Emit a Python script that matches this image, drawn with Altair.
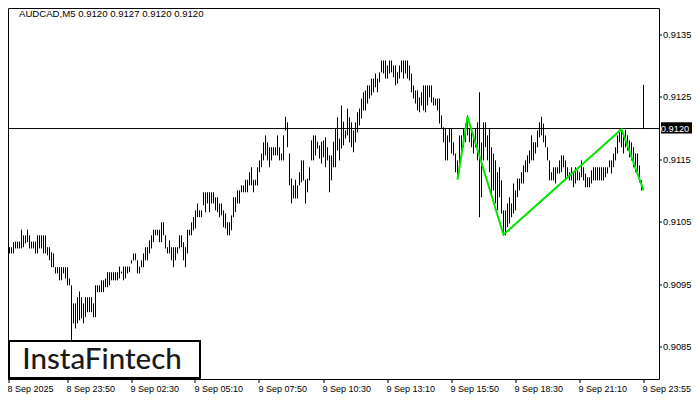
import altair as alt
import pandas as pd

highs = [
    0.90989, 0.91010, 0.91016, 0.91010, 0.91010, 0.91018, 0.91019, 0.91019, 0.91019, 0.91038,
    0.91029, 0.91029, 0.91038, 0.91029, 0.91019, 0.91019, 0.91019, 0.91029, 0.91029, 0.91029,
    0.91029, 0.91029, 0.91010, 0.91010, 0.91002, 0.91000, 0.90978, 0.90978, 0.90978, 0.90978,
    0.90978, 0.90978, 0.90978, 0.90960, 0.90949, 0.90920, 0.90920, 0.90930, 0.90939, 0.90930,
    0.90920, 0.90930, 0.90930, 0.90930, 0.90930, 0.90920, 0.90949, 0.90949, 0.90949, 0.90957,
    0.90957, 0.90960, 0.90970, 0.90970, 0.90970, 0.90970, 0.90970, 0.90970, 0.90979, 0.90971,
    0.90979, 0.90979, 0.90979, 0.90979, 0.90989, 0.91000, 0.91000, 0.90989, 0.90979, 0.90989,
    0.91000, 0.91010, 0.91010, 0.91021, 0.91029, 0.91038, 0.91038, 0.91038, 0.91038, 0.91050,
    0.91050, 0.91029, 0.91010, 0.91021, 0.91010, 0.91010, 0.91010, 0.91010, 0.91029, 0.91029,
    0.91018, 0.91010, 0.91038, 0.91038, 0.91050, 0.91058, 0.91069, 0.91080, 0.91069, 0.91069,
    0.91098, 0.91098, 0.91098, 0.91098, 0.91098, 0.91098, 0.91090, 0.91090, 0.91080, 0.91080,
    0.91069, 0.91064, 0.91050, 0.91050, 0.91061, 0.91090, 0.91090, 0.91101, 0.91101, 0.91109,
    0.91109, 0.91118, 0.91118, 0.91130, 0.91138, 0.91118, 0.91118, 0.91138, 0.91149, 0.91160,
    0.91178, 0.91189, 0.91178, 0.91170, 0.91170, 0.91170, 0.91170, 0.91189, 0.91170, 0.91160,
    0.91189, 0.91219, 0.91210, 0.91160, 0.91120, 0.91109, 0.91118, 0.91109, 0.91130, 0.91149,
    0.91149, 0.91118, 0.91120, 0.91138, 0.91181, 0.91189, 0.91189, 0.91179, 0.91173, 0.91179,
    0.91181, 0.91186, 0.91170, 0.91157, 0.91157, 0.91179, 0.91200, 0.91218, 0.91184, 0.91237,
    0.91211, 0.91197, 0.91232, 0.91218, 0.91210, 0.91197, 0.91210, 0.91226, 0.91232, 0.91248,
    0.91258, 0.91261, 0.91269, 0.91269, 0.91280, 0.91280, 0.91288, 0.91280, 0.91290, 0.91309,
    0.91309, 0.91309, 0.91301, 0.91309, 0.91309, 0.91301, 0.91301, 0.91290, 0.91301, 0.91309,
    0.91309, 0.91309, 0.91309, 0.91301, 0.91288, 0.91269, 0.91261, 0.91261, 0.91250, 0.91258,
    0.91269, 0.91269, 0.91269, 0.91269, 0.91269, 0.91250, 0.91248, 0.91248, 0.91248, 0.91221,
    0.91202, 0.91200, 0.91189, 0.91200, 0.91200, 0.91178, 0.91160, 0.91149, 0.91189, 0.91189,
    0.91200, 0.91208, 0.91221, 0.91200, 0.91200, 0.91189, 0.91200, 0.91210, 0.91258, 0.91178,
    0.91210, 0.91210, 0.91189, 0.91200, 0.91170, 0.91160, 0.91149, 0.91130, 0.91138, 0.91117,
    0.91069, 0.91069, 0.91080, 0.91090, 0.91080, 0.91112, 0.91101, 0.91120, 0.91120, 0.91130,
    0.91141, 0.91149, 0.91157, 0.91165, 0.91189, 0.91178, 0.91178, 0.91197, 0.91210, 0.91219,
    0.91208, 0.91189, 0.91170, 0.91149, 0.91130, 0.91138, 0.91138, 0.91138, 0.91149, 0.91157,
    0.91157, 0.91149, 0.91138, 0.91130, 0.91138, 0.91130, 0.91138, 0.91133, 0.91130, 0.91149,
    0.91138, 0.91128, 0.91122, 0.91122, 0.91133, 0.91138, 0.91138, 0.91138, 0.91138, 0.91138,
    0.91138, 0.91138, 0.91138, 0.91149, 0.91149, 0.91160, 0.91170, 0.91189, 0.91198, 0.91198,
    0.91189, 0.91198, 0.91189, 0.91181, 0.91178, 0.91170, 0.91160, 0.91160, 0.91141, 0.91117,
    0.91270,
]

lows = [
    0.90968, 0.90978, 0.91000, 0.91000, 0.91000, 0.91000, 0.91008, 0.91008, 0.91008, 0.91008,
    0.91010, 0.91016, 0.91018, 0.91008, 0.91008, 0.91008, 0.91000, 0.91000, 0.91008, 0.91008,
    0.91000, 0.91000, 0.90997, 0.90989, 0.90978, 0.90978, 0.90968, 0.90968, 0.90957, 0.90957,
    0.90968, 0.90960, 0.90949, 0.90949, 0.90861, 0.90888, 0.90880, 0.90888, 0.90893, 0.90896,
    0.90888, 0.90898, 0.90906, 0.90906, 0.90906, 0.90898, 0.90898, 0.90938, 0.90938, 0.90938,
    0.90938, 0.90946, 0.90946, 0.90949, 0.90957, 0.90957, 0.90957, 0.90957, 0.90960, 0.90968,
    0.90957, 0.90960, 0.90968, 0.90970, 0.90984, 0.90989, 0.90989, 0.90968, 0.90968, 0.90978,
    0.90978, 0.90989, 0.90989, 0.91000, 0.91008, 0.91018, 0.91029, 0.91029, 0.91018, 0.91018,
    0.91029, 0.91008, 0.91000, 0.91000, 0.90989, 0.90978, 0.90989, 0.91000, 0.91008, 0.91010,
    0.90989, 0.90978, 0.91000, 0.91029, 0.91029, 0.91037, 0.91040, 0.91058, 0.91058, 0.91058,
    0.91077, 0.91066, 0.91080, 0.91066, 0.91080, 0.91080, 0.91069, 0.91066, 0.91058, 0.91061,
    0.91042, 0.91040, 0.91029, 0.91029, 0.91037, 0.91058, 0.91066, 0.91080, 0.91080, 0.91098,
    0.91098, 0.91098, 0.91098, 0.91109, 0.91109, 0.91098, 0.91109, 0.91109, 0.91130, 0.91138,
    0.91149, 0.91157, 0.91149, 0.91138, 0.91149, 0.91157, 0.91157, 0.91157, 0.91149, 0.91149,
    0.91149, 0.91197, 0.91170, 0.91109, 0.91080, 0.91088, 0.91088, 0.91088, 0.91109, 0.91114,
    0.91117, 0.91080, 0.91098, 0.91117, 0.91149, 0.91149, 0.91157, 0.91168, 0.91152, 0.91144,
    0.91154, 0.91138, 0.91149, 0.91098, 0.91117, 0.91138, 0.91138, 0.91165, 0.91149, 0.91168,
    0.91173, 0.91184, 0.91189, 0.91178, 0.91170, 0.91162, 0.91178, 0.91194, 0.91205, 0.91216,
    0.91229, 0.91229, 0.91240, 0.91248, 0.91253, 0.91258, 0.91266, 0.91258, 0.91274, 0.91290,
    0.91288, 0.91280, 0.91280, 0.91288, 0.91290, 0.91282, 0.91269, 0.91272, 0.91280, 0.91290,
    0.91280, 0.91288, 0.91280, 0.91277, 0.91258, 0.91248, 0.91240, 0.91229, 0.91226, 0.91237,
    0.91229, 0.91226, 0.91237, 0.91250, 0.91242, 0.91237, 0.91237, 0.91229, 0.91208, 0.91200,
    0.91178, 0.91149, 0.91149, 0.91178, 0.91160, 0.91157, 0.91130, 0.91120, 0.91130, 0.91160,
    0.91170, 0.91178, 0.91189, 0.91178, 0.91170, 0.91160, 0.91170, 0.91149, 0.91058, 0.91090,
    0.91149, 0.91170, 0.91149, 0.91130, 0.91090, 0.91101, 0.91080, 0.91069, 0.91090, 0.91064,
    0.91029, 0.91029, 0.91042, 0.91048, 0.91058, 0.91064, 0.91069, 0.91090, 0.91101, 0.91112,
    0.91112, 0.91130, 0.91130, 0.91144, 0.91149, 0.91149, 0.91160, 0.91170, 0.91186, 0.91189,
    0.91178, 0.91170, 0.91149, 0.91117, 0.91117, 0.91117, 0.91112, 0.91128, 0.91128, 0.91130,
    0.91138, 0.91117, 0.91122, 0.91117, 0.91117, 0.91106, 0.91112, 0.91117, 0.91117, 0.91122,
    0.91117, 0.91106, 0.91106, 0.91106, 0.91112, 0.91117, 0.91117, 0.91117, 0.91117, 0.91117,
    0.91117, 0.91122, 0.91128, 0.91138, 0.91128, 0.91138, 0.91149, 0.91160, 0.91178, 0.91170,
    0.91160, 0.91170, 0.91165, 0.91154, 0.91149, 0.91138, 0.91130, 0.91130, 0.91114, 0.91101,
    0.91200,
]

x_labels = ["8 Sep 2025", "8 Sep 23:50", "9 Sep 02:30", "9 Sep 05:10", "9 Sep 07:50",
            "9 Sep 10:30", "9 Sep 13:10", "9 Sep 15:50", "9 Sep 18:30", "9 Sep 21:10",
            "9 Sep 23:55"]
y_ticks = [0.9085, 0.9095, 0.9105, 0.9115, 0.9125, 0.9135]

pattern_idx = [227, 232, 250, 309, 320]
pattern_price = [0.91118, 0.91219, 0.91030, 0.91199, 0.91101]

bid = 0.9120
header = "AUDCAD,M5  0.9120 0.9127 0.9120 0.9120"
brand = "InstaFintech"

W, H = 651, 371
FONT = "Liberation Sans"
FS = 9.5

bars = pd.DataFrame({"i": list(range(len(highs))), "high": highs, "low": lows})
pattern = pd.DataFrame({"i": pattern_idx, "p": pattern_price})

xs = alt.Scale(domain=[2.25, 327.75], nice=False, zero=False)
ys = alt.Scale(domain=[0.90799, 0.91393], nice=False, zero=False)

label_expr = "[" + ",".join("'%s'" % s for s in x_labels) + "][round(datum.value/32)]"
x_axis = alt.Axis(values=[2.5] + [32 * k for k in range(1, len(x_labels))],
                  labelExpr=label_expr, labelAlign="left", labelBaseline="top",
                  labelPadding=2, tickSize=4, translate=0, labelFlush=False,
                  labelOverlap=False, labelBound=False, title=None,
                  labelFontSize=9, labelOffset=-1)
y_axis = alt.Axis(orient="right", values=y_ticks, format=".4f", tickSize=3,
                  labelPadding=1, translate=0, title=None, labelBaseline="middle",
                  labelFontSize=9.3)

bar_layer = alt.Chart(bars).mark_rule(color="black", strokeWidth=1, clip=True).encode(
    x=alt.X("i:Q", scale=xs, axis=x_axis, title=None),
    y=alt.Y("high:Q", scale=ys, axis=y_axis, title=None),
    y2="low:Q",
)

bid_df = pd.DataFrame({"p": [bid], "hi": [bid + 0.0001], "lo": [bid - 0.00008],
                       "t": ["%.4f" % bid]})

bid_line = alt.Chart(bid_df).mark_rule(color="black", strokeWidth=1).encode(
    y=alt.Y("p:Q", title=None),
)

bid_box = alt.Chart(bid_df).mark_rect(color="black", clip=False).encode(
    x=alt.value(W + 2), x2=alt.value(W + 40),
    y=alt.Y("hi:Q", title=None), y2="lo:Q",
)
bid_text = alt.Chart(bid_df).mark_text(color="white", font=FONT, fontSize=9.3,
                                       align="center", baseline="middle", clip=False).encode(
    x=alt.value(W + 16), y=alt.Y("p:Q", title=None), text="t:N",
)

pattern_layer = alt.Chart(pattern).mark_line(color="#00e600", strokeWidth=2, clip=True).encode(
    x=alt.X("i:Q", title=None), y=alt.Y("p:Q", title=None),
)

head_df = pd.DataFrame({"t": [header]})
head_layer = alt.Chart(head_df).mark_text(font=FONT, fontSize=9.6, color="black",
                                          align="left", baseline="middle").encode(
    x=alt.value(11), y=alt.value(6), text="t:N",
)

brand_df = pd.DataFrame({"t": [brand]})
brand_box = alt.Chart(brand_df).mark_rect(fill="white", stroke="black", strokeWidth=2).encode(
    x=alt.value(1), x2=alt.value(192), y=alt.value(333), y2=alt.value(370),
)
brand_text = alt.Chart(brand_df).mark_text(font="Lato", fontSize=29.5, fontWeight=500,
                                           color="#1a1a1a", align="center",
                                           baseline="middle").encode(
    x=alt.value(94), y=alt.value(352), text="t:N",
)

chart = alt.layer(
    bar_layer, bid_line, pattern_layer, head_layer, brand_box, brand_text, bid_box, bid_text
).properties(
    width=W, height=H,
    autosize=alt.AutoSizeParams(type="none"),
    padding={"left": 0, "top": 0, "right": 33, "bottom": 22},
    background="white",
).configure_view(
    stroke="black", strokeWidth=1
).configure_axis(
    labelFont=FONT, labelFontSize=FS, labelColor="black", tickColor="black",
    domain=False, grid=False,
)

chart.save("out.html", embed_options={"renderer": "svg", "actions": False})
